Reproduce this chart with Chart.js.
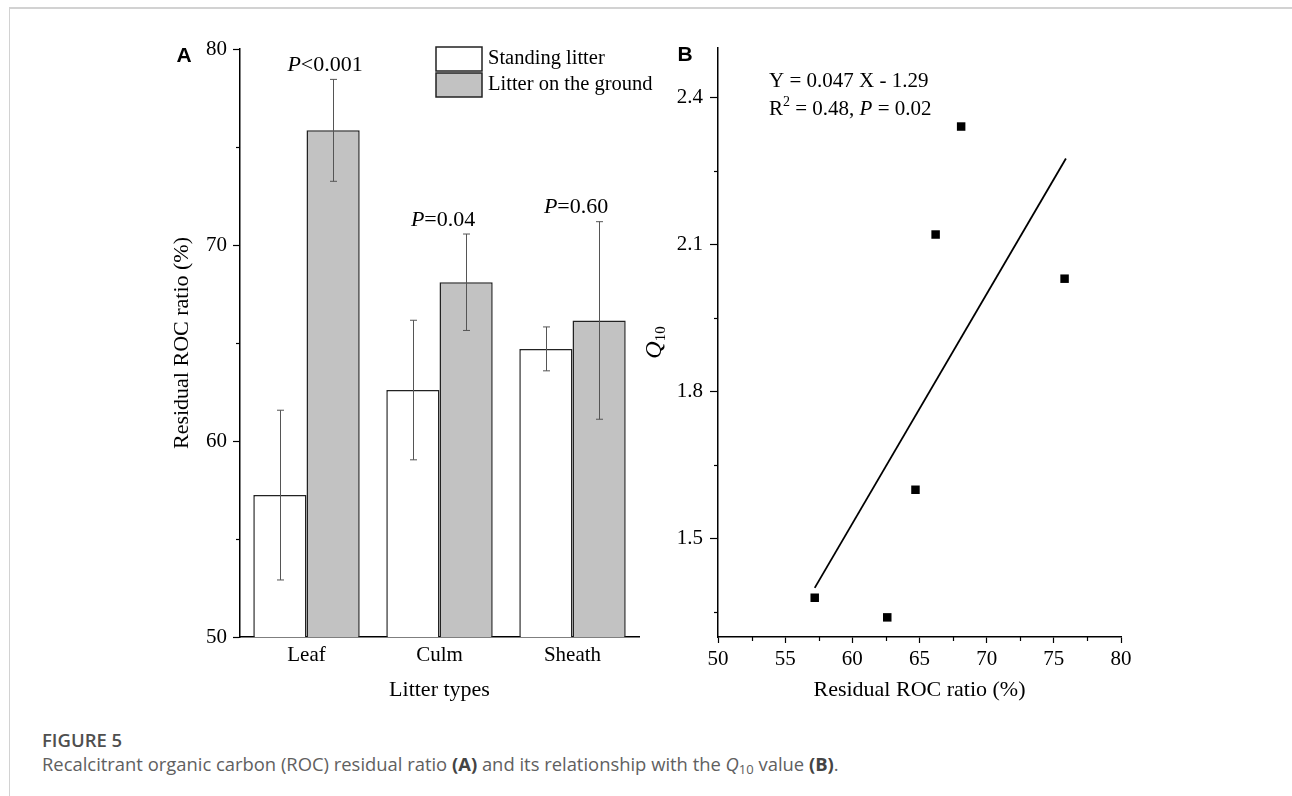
<!DOCTYPE html>
<html>
<head>
<meta charset="utf-8">
<title>Figure 5</title>
<script src="https://cdn.jsdelivr.net/npm/chart.js@4.4.0/dist/chart.umd.min.js"></script>
<style>
  html, body { margin: 0; padding: 0; background: #fff; }
  body { width: 1292px; height: 796px; position: relative; overflow: hidden; }
  .frame { position: absolute; left: 9px; top: 7px; right: 0; bottom: 0;
           border-top: 2px solid #d2d2d2; border-left: 1px solid #d2d2d2; }
  #chartA { position: absolute; left: 150px; top: 20px; }
  #chartB { position: absolute; left: 630px; top: 20px; }
  .caption { position: absolute; left: 42px; top: 728px; font-family: 'Open Sans', sans-serif; }
  .caption .fig { font-size: 18.5px; font-weight: 600; color: #4f4f4f; line-height: 24px; }
  .caption .txt { font-size: 18.4px; color: #606060; line-height: 24px; }
  .caption b { color: #444; }
  .caption sub { font-size: 13px; line-height: 0; vertical-align: -3px; }
</style>
</head>
<body>
<div class="frame"></div>
<canvas id="chartA" width="510" height="700"></canvas>
<canvas id="chartB" width="590" height="700"></canvas>
<div class="caption">
  <div class="fig">FIGURE 5</div>
  <div class="txt">Recalcitrant organic carbon (ROC) residual ratio <b>(A)</b> and its relationship with the <i>Q</i><sub>10</sub> value <b>(B)</b>.</div>
</div>

<script>
// panel A: residual ROC ratio by litter type
const litterTypes = ['Leaf', 'Culm', 'Sheath'];
const standingMean = [57.24, 62.6, 64.7];
const standingErr = [4.33, 3.56, 1.12];
const groundMean = [75.85, 68.1, 66.15];
const groundErr = [2.6, 2.46, 5.04];
const pLabels = ['<0.001', '=0.04', '=0.60'];

// panel B: Q10 against residual ROC ratio
const rocRatio = [57.2, 62.6, 64.7, 66.2, 68.1, 75.8];
const q10 = [1.38, 1.34, 1.60, 2.12, 2.34, 2.03];
const fitX = [57.2, 75.9];
const fitY = [1.40, 2.275];
const q10Ticks = [1.5, 1.8, 2.1, 2.4];

const SERIF = "'Liberation Serif', 'Times New Roman', serif";
const SANS = "'Liberation Sans', Arial, sans-serif";
Chart.defaults.font.family = SERIF;
Chart.defaults.font.size = 21;
Chart.defaults.color = '#000';

// short unlabeled ticks between the labeled ones
const minorTicks = {
  id: 'minorTicks',
  afterDraw(chart, args, opts) {
    const ctx = chart.ctx;
    ctx.save();
    ctx.strokeStyle = '#000';
    ctx.lineWidth = 1.2;
    const ys = chart.scales.y;
    (opts.y || []).forEach(v => {
      const py = Math.round(ys.getPixelForValue(v)) + 0.5;
      ctx.beginPath(); ctx.moveTo(ys.right - 4, py); ctx.lineTo(ys.right, py); ctx.stroke();
    });
    const xs = chart.scales.x;
    (opts.x || []).forEach(v => {
      const px = Math.round(xs.getPixelForValue(v)) + 0.5;
      ctx.beginPath(); ctx.moveTo(px, xs.top); ctx.lineTo(px, xs.top + 4); ctx.stroke();
    });
    ctx.restore();
  }
};

// error bars, P values, legend and panel letter for A
const panelA = {
  id: 'panelA',
  afterDatasetsDraw(chart) {
    const ctx = chart.ctx;
    const y = chart.scales.y;
    const errs = [standingErr, groundErr];
    ctx.save();
    ctx.strokeStyle = '#555';
    ctx.lineWidth = 1;
    chart.data.datasets.forEach((ds, i) => {
      chart.getDatasetMeta(i).data.forEach((bar, j) => {
        const x = Math.round(bar.x) + 0.5;
        const top = y.getPixelForValue(ds.data[j] + errs[i][j]);
        const bot = y.getPixelForValue(ds.data[j] - errs[i][j]);
        ctx.beginPath();
        ctx.moveTo(x, top); ctx.lineTo(x, bot);
        ctx.moveTo(x - 3.5, top); ctx.lineTo(x + 3.5, top);
        ctx.moveTo(x - 3.5, bot); ctx.lineTo(x + 3.5, bot);
        ctx.stroke();
      });
    });
    ctx.restore();
  },
  afterDraw(chart) {
    const ctx = chart.ctx;
    const area = chart.chartArea;
    const y = chart.scales.y;
    ctx.save();
    ctx.fillStyle = '#000';
    ctx.textBaseline = 'middle';

    // P values above each pair
    const dx = [-8, -23, -23];
    const ground = chart.getDatasetMeta(1).data;
    pLabels.forEach((t, j) => {
      const cy = y.getPixelForValue(groundMean[j] + groundErr[j]) - 14;
      ctx.font = 'italic 22px ' + SERIF;
      const wP = ctx.measureText('P').width;
      ctx.font = '22px ' + SERIF;
      const wT = ctx.measureText(t).width;
      const x0 = ground[j].x + dx[j] - (wP + wT) / 2;
      ctx.textAlign = 'left';
      ctx.font = 'italic 22px ' + SERIF;
      ctx.fillText('P', x0, cy);
      ctx.font = '22px ' + SERIF;
      ctx.fillText(t, x0 + wP, cy);
    });

    // legend
    const lx = area.left + 196;
    chart.data.datasets.forEach((ds, i) => {
      const by = area.top - 2 + i * 26;
      ctx.fillStyle = ds.backgroundColor;
      ctx.fillRect(lx, by, 46, 24);
      ctx.strokeStyle = '#222';
      ctx.lineWidth = 1.5;
      ctx.strokeRect(lx, by, 46, 24);
      ctx.fillStyle = '#000';
      ctx.font = '20.5px ' + SERIF;
      ctx.textAlign = 'left';
      ctx.fillText(ds.label, lx + 52, by + 12);
    });

    ctx.font = 'bold 21px ' + SANS;
    ctx.textAlign = 'center';
    ctx.fillText('A', area.left - 56, area.top + 7);
    ctx.restore();
  }
};

// equation, Q10 axis title and panel letter for B
const panelB = {
  id: 'panelB',
  afterDraw(chart) {
    const ctx = chart.ctx;
    const area = chart.chartArea;
    ctx.save();
    ctx.fillStyle = '#000';
    ctx.textBaseline = 'middle';
    ctx.textAlign = 'left';

    let x = area.left + 51;
    let cy = area.top + 33;
    ctx.font = '21px ' + SERIF;
    ctx.fillText('Y = 0.047 X - 1.29', x, cy);

    cy = area.top + 61;
    const parts = [
      ['R', '21px ', 0], ['2', '14px ', -7], [' = 0.48, ', '21px ', 0],
      ['P', 'italic 21px ', 0], [' = 0.02', '21px ', 0]
    ];
    parts.forEach(p => {
      ctx.font = p[1] + SERIF;
      ctx.fillText(p[0], x, cy + p[2]);
      x += ctx.measureText(p[0]).width;
    });

    // rotated Q10 title
    ctx.translate(area.left - 63, (area.top + area.bottom) / 2);
    ctx.rotate(-Math.PI / 2);
    ctx.font = 'italic 24px ' + SERIF;
    const wQ = ctx.measureText('Q').width;
    ctx.font = '15px ' + SERIF;
    const wS = ctx.measureText('10').width;
    const x0 = -(wQ + wS) / 2;
    ctx.font = 'italic 24px ' + SERIF;
    ctx.fillText('Q', x0, 0);
    ctx.font = '15px ' + SERIF;
    ctx.fillText('10', x0 + wQ, 6);
    ctx.setTransform(1, 0, 0, 1, 0, 0);

    ctx.font = 'bold 21px ' + SANS;
    ctx.textAlign = 'center';
    ctx.fillText('B', area.left - 33, area.top + 7);
    ctx.restore();
  }
};

const axisLine = { display: true, color: '#000', width: 1.5 };

new Chart(document.getElementById('chartA'), {
  type: 'bar',
  data: {
    labels: litterTypes,
    datasets: [
      { label: 'Standing litter', data: standingMean, backgroundColor: '#ffffff',
        borderColor: '#222', borderWidth: 1.5 },
      { label: 'Litter on the ground', data: groundMean, backgroundColor: '#c2c2c2',
        borderColor: '#222', borderWidth: 1.5 }
    ]
  },
  plugins: [minorTicks, panelA],
  options: {
    responsive: false,
    animation: false,
    layout: { padding: { left: 0, right: 21, top: 29, bottom: 17 } },
    datasets: { bar: { categoryPercentage: 0.8, barPercentage: 1 } },
    plugins: {
      legend: { display: false },
      tooltip: { enabled: false },
      minorTicks: { y: [55, 65, 75] }
    },
    scales: {
      x: {
        grid: { display: false, drawTicks: false, tickLength: 0 },
        border: axisLine,
        ticks: { padding: 6 },
        title: { display: true, text: 'Litter types', font: { size: 22 }, padding: { top: 0, bottom: 0 } },
        afterFit(s) { s.height = 66; }
      },
      y: {
        min: 50, max: 80,
        grid: { drawOnChartArea: false, drawTicks: true, tickLength: 7, tickColor: '#000', tickWidth: 1.2 },
        border: axisLine,
        ticks: { stepSize: 10, padding: 6 },
        title: { display: true, text: 'Residual ROC ratio (%)', font: { size: 22 }, padding: { top: 19, bottom: 0 } },
        afterFit(s) { s.width = 90; }
      }
    }
  }
});

new Chart(document.getElementById('chartB'), {
  type: 'scatter',
  data: {
    datasets: [
      { label: 'Q10', data: rocRatio.map((v, i) => ({ x: v, y: q10[i] })),
        pointStyle: 'rect', pointRadius: 6, backgroundColor: '#000', borderColor: '#000', borderWidth: 0 },
      { type: 'line', label: 'fit', data: fitX.map((v, i) => ({ x: v, y: fitY[i] })),
        borderColor: '#000', borderWidth: 1.8, pointRadius: 0, fill: false }
    ]
  },
  plugins: [minorTicks, panelB],
  options: {
    responsive: false,
    animation: false,
    layout: { padding: { left: 0, right: 99, top: 28, bottom: 17 } },
    plugins: {
      legend: { display: false },
      tooltip: { enabled: false },
      minorTicks: { x: [52.5, 57.5, 62.5, 67.5, 72.5, 77.5], y: [1.35, 1.65, 1.95, 2.25] }
    },
    scales: {
      x: {
        type: 'linear', min: 50, max: 80,
        grid: { drawOnChartArea: false, drawTicks: true, tickLength: 6, tickColor: '#000', tickWidth: 1.2 },
        border: axisLine,
        ticks: { stepSize: 5, padding: 4 },
        title: { display: true, text: 'Residual ROC ratio (%)', font: { size: 22 }, padding: { top: 0, bottom: 0 } },
        afterFit(s) { s.height = 66; }
      },
      y: {
        min: 1.3, max: 2.5,
        grid: { drawOnChartArea: false, drawTicks: true, tickLength: 8, tickColor: '#000', tickWidth: 1.2 },
        border: axisLine,
        ticks: { padding: 7, callback: v => Number(v).toFixed(1) },
        afterBuildTicks(s) { s.ticks = q10Ticks.map(v => ({ value: v })); },
        afterFit(s) { s.width = 88; }
      }
    }
  }
});
</script>
</body>
</html>
